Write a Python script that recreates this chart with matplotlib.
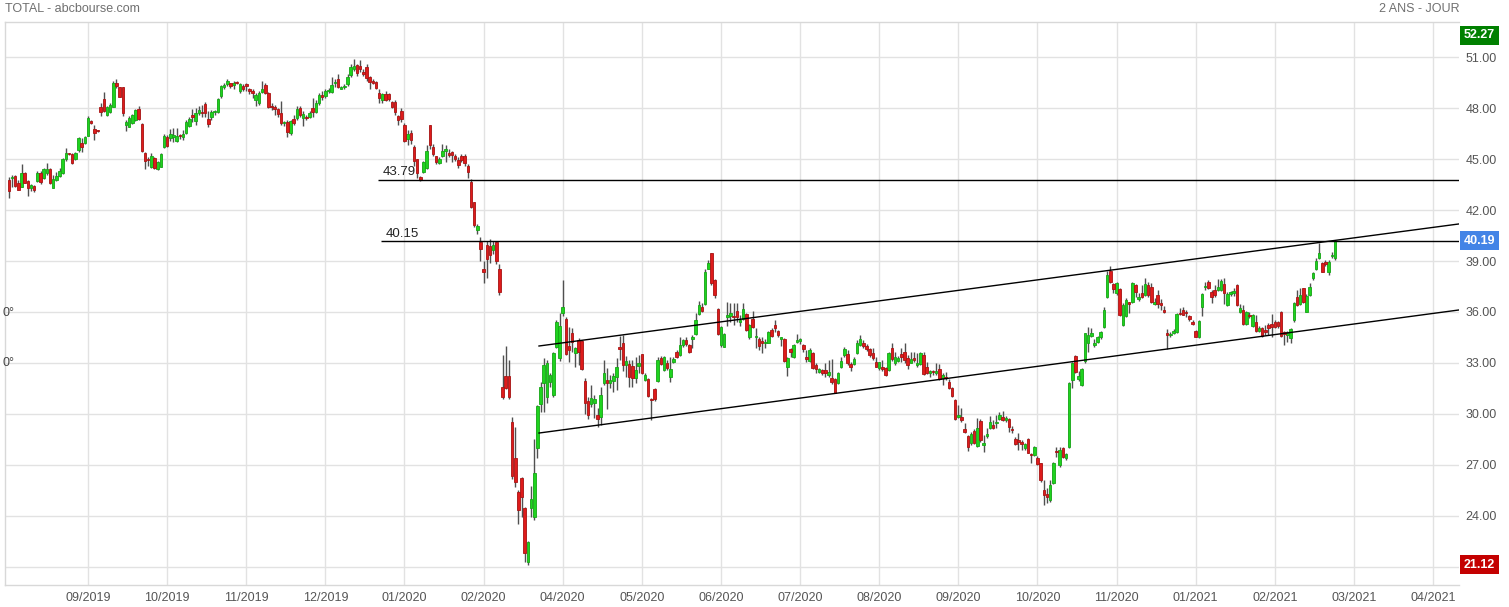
import numpy as np
import matplotlib
matplotlib.use('Agg')
import matplotlib.pyplot as plt

# cours journaliers TOTAL, un chandelier par séance
opens = [
    43.76, 43.90, 44.00, 43.60, 43.37, 44.20, 43.72, 43.27, 43.40, 43.72,
    44.19, 43.86, 44.15, 44.39, 43.31, 43.76, 44.00, 44.19, 44.98, 45.33,
    45.27, 45.00, 45.53, 45.92, 45.92, 46.37, 47.23, 46.74, 46.66, 48.04,
    48.51, 47.58, 47.74, 48.07, 49.45, 49.21, 49.21, 47.02, 46.90, 47.10,
    47.29, 47.92, 47.05, 45.37, 45.00, 44.51, 45.04, 44.41, 44.55, 45.68,
    46.31, 46.21, 46.30, 46.08, 46.35, 46.27, 46.55, 46.96, 47.59, 47.23,
    47.72, 47.76, 48.23, 47.33, 47.45, 47.74, 47.78, 48.72, 49.21, 49.39,
    49.45, 49.33, 49.53, 49.02, 49.29, 49.41, 49.10, 49.00, 48.47, 48.27,
    48.96, 49.35, 48.90, 48.12, 48.04, 47.92, 47.68, 47.10, 47.19, 46.51,
    47.35, 47.39, 47.98, 47.39, 47.49, 47.49, 47.98, 47.78, 48.31, 48.74,
    48.70, 49.00, 48.92, 49.47, 49.68, 49.12, 49.21, 49.39, 49.94, 50.27,
    50.53, 50.47, 50.10, 50.39, 49.84, 49.55, 49.55, 48.90, 48.47, 48.80,
    48.82, 48.37, 48.37, 47.55, 47.84, 47.00, 46.16, 46.55, 45.73, 44.98,
    43.94, 44.25, 44.49, 47.00, 45.68, 45.16, 44.75, 45.20, 45.50, 45.37,
    45.43, 45.20, 44.94, 45.20, 45.18, 44.60, 43.66, 42.45, 40.82, 40.14,
    38.53, 39.94, 39.88, 39.65, 40.10, 38.53, 31.57, 32.23, 32.23, 29.50,
    27.39, 25.43, 26.21, 24.45, 21.31, 24.45, 23.96, 27.98, 30.60, 31.80,
    31.02, 31.90, 31.10, 33.96, 33.27, 35.92, 35.57, 34.00, 34.78, 33.57,
    34.35, 34.31, 31.96, 30.78, 30.58, 30.62, 29.94, 29.80, 31.80, 32.00,
    31.84, 31.96, 32.19, 33.92, 34.16, 32.90, 32.93, 32.83, 32.10, 32.83,
    33.51, 32.00, 32.04, 30.85, 31.47, 31.97, 33.30, 32.59, 32.99, 32.16,
    33.08, 33.63, 33.48, 34.04, 34.36, 34.04, 34.44, 34.71, 35.89, 36.32,
    36.46, 38.55, 39.46, 37.89, 36.16, 34.06, 33.97, 35.69, 35.79, 35.75,
    36.06, 35.40, 35.57, 35.89, 34.51, 35.57, 34.50, 34.40, 34.30, 34.16,
    34.20, 34.95, 35.22, 34.89, 34.40, 34.41, 32.75, 33.80, 33.37, 34.24,
    34.31, 34.06, 33.33, 33.14, 33.57, 32.88, 32.49, 32.59, 32.59, 32.29,
    32.10, 32.04, 31.84, 32.78, 33.47, 33.53, 32.94, 32.94, 33.57, 34.06,
    34.20, 34.00, 33.80, 33.57, 33.04, 32.69, 32.78, 32.69, 32.59, 33.86,
    32.98, 33.14, 33.53, 33.67, 33.28, 33.02, 33.28, 32.88, 32.92, 33.47,
    32.75, 32.39, 32.49, 32.44, 32.63, 32.10, 32.20, 31.90, 31.51, 30.82,
    29.84, 29.84, 29.10, 28.70, 28.27, 29.02, 28.12, 29.60, 28.20, 28.70,
    29.16, 29.35, 29.45, 29.68, 29.84, 29.64, 29.70, 29.08, 28.53, 28.47,
    28.35, 27.98, 28.53, 27.60, 27.58, 27.43, 27.10, 25.53, 25.29, 24.94,
    25.92, 27.80, 27.00, 27.98, 27.39, 28.04, 32.00, 33.41, 32.04, 31.70,
    33.14, 34.20, 34.59, 34.08, 34.26, 34.51, 35.10, 36.87, 38.43, 37.65,
    37.10, 37.34, 35.24, 35.77, 36.53, 36.61, 37.59, 36.75, 37.14, 37.00,
    37.59, 37.45, 36.47, 37.00, 36.55, 36.12, 34.75, 34.65, 34.75, 34.85,
    35.96, 36.12, 35.93, 35.77, 35.36, 34.91, 34.55, 36.32, 37.45, 37.75,
    37.20, 37.30, 37.30, 37.30, 37.63, 36.41, 37.04, 37.10, 37.59, 36.02,
    36.12, 35.28, 35.80, 35.20, 35.39, 34.88, 35.08, 34.94, 35.24, 35.28,
    35.43, 35.39, 35.98, 34.81, 34.65, 34.49, 35.53, 36.90, 36.45, 37.39,
    36.02, 37.00, 37.98, 38.53, 39.16, 38.86, 38.96, 38.33, 39.27, 39.16,
]
highs = [
    43.92, 44.05, 44.05, 43.76, 44.70, 44.25, 43.76, 43.55, 43.50, 44.30,
    44.30, 44.50, 44.78, 44.45, 44.05, 44.25, 44.50, 45.04, 45.62, 45.37,
    45.33, 45.43, 46.27, 46.21, 46.35, 47.53, 47.29, 47.00, 46.70, 48.31,
    48.92, 48.11, 48.27, 49.60, 49.70, 49.25, 49.25, 47.29, 47.53, 47.64,
    47.92, 48.11, 47.13, 45.43, 45.10, 45.33, 45.10, 44.88, 45.33, 46.47,
    46.41, 46.74, 46.80, 46.80, 46.50, 46.70, 47.30, 47.45, 47.95, 48.00,
    48.10, 48.20, 48.35, 47.80, 47.90, 47.90, 48.60, 49.35, 49.50, 49.70,
    49.50, 49.60, 49.60, 49.45, 49.40, 49.50, 49.20, 49.10, 48.90, 49.00,
    49.60, 49.45, 48.95, 48.30, 48.20, 48.00, 48.40, 47.25, 47.30, 47.30,
    47.60, 48.10, 48.10, 47.80, 47.60, 47.80, 48.60, 48.50, 48.90, 49.00,
    49.10, 49.20, 49.80, 49.70, 50.00, 49.30, 49.40, 50.00, 50.60, 50.90,
    50.60, 50.82, 50.30, 50.60, 49.90, 49.70, 49.60, 49.10, 48.90, 49.00,
    48.90, 48.40, 48.50, 47.60, 48.00, 47.10, 46.70, 46.70, 45.80, 45.00,
    44.00, 44.90, 45.80, 47.00, 45.90, 45.20, 45.10, 45.90, 45.80, 45.60,
    45.50, 45.30, 45.10, 45.30, 45.30, 44.70, 43.80, 42.50, 41.20, 40.40,
    39.00, 40.20, 40.30, 40.20, 40.20, 38.80, 33.47, 34.00, 33.17, 29.80,
    29.21, 25.50, 26.31, 24.50, 22.50, 25.76, 28.50, 30.55, 31.90, 33.27,
    33.17, 32.39, 33.66, 35.50, 35.96, 37.88, 35.68, 35.13, 35.08, 33.96,
    34.45, 34.35, 32.09, 30.98, 31.70, 31.10, 30.33, 31.57, 33.17, 32.68,
    32.30, 32.39, 33.27, 34.60, 34.65, 33.42, 33.18, 33.18, 33.38, 33.47,
    33.55, 32.40, 32.10, 30.93, 31.51, 33.34, 33.42, 33.42, 33.18, 33.38,
    33.38, 33.77, 34.51, 34.40, 34.50, 34.12, 34.65, 35.93, 36.67, 36.51,
    38.51, 39.06, 39.49, 37.93, 36.22, 35.18, 34.75, 36.61, 36.55, 36.51,
    36.55, 35.83, 36.51, 35.97, 35.30, 36.08, 35.04, 34.55, 34.55, 34.40,
    34.91, 35.04, 35.53, 34.95, 34.55, 34.45, 33.37, 33.86, 34.12, 34.71,
    34.45, 34.12, 33.77, 33.86, 33.67, 32.98, 32.70, 32.65, 32.98, 33.18,
    33.22, 32.10, 32.49, 33.37, 33.92, 33.77, 33.08, 33.35, 34.35, 34.65,
    34.35, 34.10, 33.86, 33.86, 33.37, 33.08, 33.18, 32.75, 33.67, 34.20,
    33.67, 33.41, 33.86, 34.16, 33.47, 33.67, 33.67, 33.61, 33.67, 33.67,
    33.08, 32.60, 32.59, 32.98, 32.92, 32.39, 32.49, 32.04, 31.60, 30.86,
    30.53, 30.33, 29.45, 28.76, 28.96, 29.10, 29.74, 29.68, 28.76, 29.16,
    29.88, 29.65, 29.94, 30.14, 30.20, 29.90, 29.74, 29.29, 28.63, 28.86,
    28.47, 28.27, 28.57, 27.68, 28.12, 27.53, 27.13, 26.12, 25.63, 26.12,
    27.19, 28.04, 28.04, 28.04, 27.72, 31.90, 33.08, 33.47, 32.53, 32.68,
    34.79, 35.10, 35.04, 34.40, 34.60, 34.90, 36.27, 38.43, 38.71, 37.69,
    37.79, 37.40, 36.51, 36.81, 36.60, 37.79, 37.65, 37.10, 37.59, 37.98,
    37.79, 37.69, 36.80, 37.30, 36.75, 36.35, 34.98, 34.85, 34.98, 35.96,
    36.22, 36.28, 36.12, 35.83, 35.53, 34.95, 35.53, 37.10, 37.79, 37.88,
    37.30, 37.59, 37.94, 37.94, 37.98, 37.16, 37.24, 37.39, 37.63, 36.45,
    36.41, 36.06, 35.98, 35.86, 35.82, 35.20, 35.14, 35.24, 35.34, 35.86,
    35.53, 35.47, 36.06, 34.88, 34.88, 35.04, 36.61, 37.30, 37.39, 37.43,
    37.04, 37.69, 38.37, 39.16, 40.04, 38.92, 39.04, 39.06, 39.55, 40.24,
]
lows = [
    42.68, 43.37, 43.37, 43.17, 43.33, 43.57, 42.82, 43.10, 43.07, 43.66,
    43.52, 43.80, 44.05, 43.52, 43.27, 43.72, 43.96, 44.11, 44.90, 45.23,
    44.70, 44.94, 45.43, 45.43, 45.88, 46.33, 47.05, 46.11, 46.60, 47.53,
    47.78, 47.53, 47.68, 48.04, 49.20, 48.62, 47.53, 46.66, 46.86, 47.05,
    47.25, 47.29, 45.43, 44.39, 44.60, 44.45, 44.39, 44.35, 44.51, 45.62,
    45.72, 46.07, 46.00, 46.00, 46.20, 46.10, 46.50, 46.90, 47.20, 47.00,
    47.60, 47.50, 47.50, 46.90, 47.30, 47.60, 47.70, 48.60, 49.10, 49.30,
    49.20, 49.10, 49.40, 48.90, 49.00, 49.00, 48.80, 48.60, 48.10, 48.20,
    48.90, 48.80, 48.00, 47.90, 47.60, 47.50, 47.00, 46.95, 46.30, 46.40,
    47.00, 47.30, 47.50, 46.95, 47.30, 47.40, 47.50, 47.70, 48.20, 48.50,
    48.60, 48.90, 48.90, 49.25, 49.20, 49.10, 49.10, 49.30, 49.80, 50.20,
    49.90, 50.10, 49.90, 49.60, 49.10, 49.40, 49.10, 48.30, 48.30, 48.40,
    48.40, 48.00, 47.60, 47.00, 47.20, 46.00, 45.80, 45.90, 44.60, 43.90,
    43.70, 44.20, 44.40, 45.60, 45.20, 44.70, 44.70, 45.10, 44.80, 45.10,
    44.80, 44.90, 44.50, 44.80, 44.60, 43.90, 42.10, 41.00, 40.60, 39.00,
    37.70, 38.00, 38.90, 39.40, 38.80, 37.00, 30.90, 31.45, 30.90, 26.15,
    25.72, 23.53, 23.96, 21.31, 21.12, 23.92, 23.76, 27.39, 30.10, 30.13,
    30.63, 31.60, 31.00, 33.86, 33.13, 35.76, 33.47, 33.07, 33.66, 32.78,
    32.88, 32.58, 29.98, 29.68, 30.43, 29.74, 29.21, 29.35, 31.70, 30.31,
    31.50, 31.30, 31.40, 33.20, 32.50, 32.20, 31.60, 31.60, 31.80, 32.44,
    32.36, 31.95, 31.00, 29.65, 30.79, 31.91, 32.87, 32.55, 32.59, 31.91,
    33.02, 33.28, 33.42, 33.97, 34.00, 33.57, 33.87, 34.65, 35.83, 36.02,
    36.42, 38.51, 37.59, 36.81, 34.65, 33.97, 33.93, 35.18, 35.44, 35.24,
    35.44, 35.18, 35.53, 34.91, 34.44, 35.04, 33.87, 33.77, 33.57, 33.90,
    34.16, 34.55, 34.85, 34.55, 34.00, 33.08, 32.24, 33.37, 33.28, 34.20,
    34.10, 33.67, 33.08, 33.08, 32.63, 32.39, 32.43, 32.30, 32.20, 32.20,
    31.77, 31.22, 31.77, 32.69, 33.37, 32.88, 32.55, 32.88, 33.53, 34.00,
    33.90, 33.70, 33.37, 33.18, 32.75, 32.59, 32.55, 32.24, 32.55, 33.14,
    32.88, 33.08, 33.08, 32.98, 32.63, 32.98, 33.08, 32.78, 32.88, 32.29,
    32.35, 32.20, 32.29, 32.29, 32.00, 31.71, 31.98, 31.45, 30.98, 29.64,
    29.74, 29.55, 28.90, 27.84, 28.17, 28.23, 28.08, 28.37, 27.78, 28.57,
    29.10, 29.10, 29.16, 29.64, 29.60, 29.50, 28.96, 28.90, 28.17, 27.88,
    27.88, 27.88, 27.68, 27.13, 27.53, 26.98, 26.02, 24.64, 24.74, 24.84,
    25.88, 27.49, 26.86, 27.39, 27.29, 27.98, 31.51, 32.39, 31.96, 31.64,
    32.98, 33.67, 34.51, 33.96, 34.20, 34.40, 35.04, 36.81, 37.69, 37.10,
    37.00, 35.77, 35.18, 35.69, 35.92, 36.55, 36.90, 36.65, 36.81, 36.94,
    36.90, 36.55, 36.40, 36.22, 36.12, 35.93, 33.81, 34.50, 34.71, 34.79,
    35.83, 35.83, 35.73, 35.49, 35.24, 34.51, 34.45, 35.79, 37.30, 37.35,
    36.51, 36.90, 37.24, 37.24, 36.45, 36.37, 36.96, 36.96, 36.37, 35.92,
    35.24, 35.24, 35.67, 35.14, 34.81, 34.80, 34.55, 34.65, 34.65, 34.55,
    35.04, 35.04, 34.55, 34.06, 34.26, 34.16, 35.43, 36.37, 36.41, 36.51,
    35.98, 36.96, 37.88, 38.47, 39.12, 38.33, 38.73, 38.20, 39.16, 39.06,
]
closes = [
    43.13, 43.96, 43.40, 43.20, 44.20, 43.60, 43.27, 43.45, 43.20, 44.15,
    43.66, 44.39, 44.39, 43.57, 43.80, 43.99, 44.29, 44.98, 45.37, 45.30,
    44.74, 45.37, 46.21, 45.72, 46.31, 47.39, 47.13, 46.55, 46.62, 47.74,
    47.84, 48.04, 48.17, 49.45, 49.30, 48.66, 47.72, 47.17, 47.39, 47.58,
    47.88, 47.33, 45.49, 44.90, 44.94, 45.19, 44.45, 44.84, 45.27, 46.37,
    45.78, 46.47, 46.40, 46.35, 46.33, 46.47, 47.19, 47.33, 47.49, 47.69,
    47.88, 47.69, 47.69, 47.06, 47.74, 47.80, 48.51, 49.29, 49.35, 49.59,
    49.29, 49.45, 49.45, 49.39, 49.10, 49.29, 49.02, 48.86, 48.76, 48.90,
    49.12, 48.90, 48.08, 48.04, 47.92, 47.63, 47.10, 47.15, 46.60, 47.25,
    47.10, 47.92, 47.59, 47.64, 47.39, 47.68, 47.78, 48.31, 48.76, 48.62,
    49.00, 49.06, 49.35, 49.49, 49.25, 49.21, 49.30, 49.80, 50.39, 50.47,
    50.08, 50.27, 50.00, 49.74, 49.55, 49.50, 49.16, 48.57, 48.80, 48.47,
    48.51, 48.08, 47.78, 47.29, 47.35, 46.08, 46.47, 46.12, 44.90, 44.16,
    43.76, 44.80, 45.47, 45.82, 45.29, 44.84, 45.00, 45.47, 45.59, 45.22,
    45.24, 45.00, 44.65, 44.94, 44.74, 44.25, 42.20, 41.12, 41.06, 39.69,
    38.37, 39.10, 39.35, 39.94, 39.02, 37.20, 30.98, 31.50, 30.98, 26.35,
    26.02, 24.35, 25.13, 21.80, 22.45, 24.98, 26.51, 30.47, 31.60, 32.88,
    32.98, 32.29, 33.57, 35.43, 35.17, 36.27, 33.53, 33.76, 34.25, 33.86,
    33.66, 32.62, 30.66, 29.94, 30.92, 30.86, 29.68, 31.10, 32.39, 31.84,
    32.00, 32.23, 32.74, 33.80, 32.87, 33.14, 32.20, 32.10, 32.59, 32.99,
    32.40, 32.30, 31.06, 30.81, 30.87, 33.18, 32.95, 33.34, 32.73, 32.63,
    33.24, 33.38, 34.06, 34.36, 34.10, 33.63, 34.55, 35.53, 36.42, 36.08,
    38.38, 38.90, 37.69, 37.00, 34.69, 35.10, 34.71, 35.83, 35.93, 35.71,
    35.69, 35.50, 36.16, 34.95, 35.24, 35.10, 34.60, 34.00, 34.16, 34.25,
    34.85, 34.61, 35.04, 34.65, 34.50, 33.14, 33.28, 33.67, 34.06, 34.35,
    34.39, 33.80, 33.22, 33.77, 32.69, 32.63, 32.63, 32.39, 32.39, 32.49,
    31.90, 31.26, 32.39, 33.14, 33.80, 33.02, 32.75, 33.22, 34.16, 34.39,
    34.00, 33.85, 33.47, 33.28, 32.78, 33.04, 32.63, 32.29, 33.61, 33.22,
    33.33, 33.28, 33.33, 33.18, 32.88, 33.22, 33.18, 33.02, 33.57, 32.35,
    32.39, 32.50, 32.47, 32.55, 32.04, 32.29, 32.10, 31.51, 31.06, 29.68,
    29.94, 29.64, 28.96, 28.04, 28.82, 28.31, 29.16, 28.47, 28.27, 28.82,
    29.55, 29.16, 29.55, 29.94, 29.64, 29.75, 29.21, 29.04, 28.21, 28.37,
    28.23, 28.23, 27.72, 27.56, 28.04, 27.04, 26.12, 25.23, 25.10, 25.82,
    27.10, 27.76, 27.88, 27.49, 27.64, 31.84, 33.02, 32.49, 32.23, 32.62,
    34.75, 34.65, 34.75, 34.12, 34.51, 34.80, 36.12, 38.18, 37.79, 37.34,
    37.73, 35.83, 36.41, 36.71, 36.49, 37.69, 37.20, 36.90, 36.90, 37.65,
    37.00, 36.61, 36.61, 36.47, 36.41, 35.98, 34.65, 34.70, 34.91, 35.89,
    35.89, 35.85, 35.92, 35.57, 35.32, 34.55, 35.47, 37.04, 37.49, 37.43,
    36.90, 37.00, 37.49, 37.83, 37.10, 37.04, 37.16, 37.24, 36.41, 36.22,
    35.28, 35.98, 35.78, 35.82, 34.88, 35.08, 34.61, 34.85, 35.04, 35.14,
    35.14, 35.20, 34.61, 34.69, 34.75, 35.00, 36.51, 36.41, 37.00, 36.57,
    36.96, 37.49, 38.27, 39.00, 39.45, 38.37, 38.80, 38.96, 39.31, 40.19,
]
assert len(opens) == len(highs) == len(lows) == len(closes) == 420

# axe des temps : une ligne verticale toutes les 25 séances
grid_idx = list(range(25, 451, 25))
month_labels = ['09/2019', '10/2019', '11/2019', '12/2019', '01/2020', '02/2020',
                '04/2020', '05/2020', '06/2020', '07/2020', '08/2020', '09/2020',
                '10/2020', '11/2020', '01/2021', '02/2021', '03/2021', '04/2021']
price_ticks = list(range(21, 52, 3))

# étiquettes de l'axe droit
box_values = [52.27, 40.19, 21.12]
box_colors = ['#008000', '#4384e6', '#c40000']

# tracés : niveaux horizontaux et canal
levels = [43.79, 40.15]
level_start = [116.6, 117.6]
channel_x = [167.5, 458.2]
channel_top = [34.0, 41.18]
channel_bottom = [28.88, 36.12]

plt.rcParams['font.family'] = ['Liberation Sans', 'DejaVu Sans']

W, H = 1509, 607
fig = plt.figure(figsize=(W / 100, H / 100), dpi=100)
ax = fig.add_axes([5 / W, 1 - 585 / H, (1459 - 5) / W, (585 - 22) / H])

o = np.array(opens)
h = np.array(highs)
l = np.array(lows)
c = np.array(closes)
x = np.arange(len(c))
up = c >= o

ax.vlines(x, l, h, color='#505050', lw=1.0, zorder=2)
body = np.maximum(np.abs(c - o), 0.07)
bottom = np.minimum(o, c)
ax.bar(x[up], body[up], bottom=bottom[up], width=0.8, color='#1fd31f',
       edgecolor='#16a516', lw=0.6, zorder=3)
ax.bar(x[~up], body[~up], bottom=bottom[~up], width=0.8, color='#de1b1b',
       edgecolor='#a81313', lw=0.6, zorder=3)

# niveaux 43.79 / 40.15
for lev, xs in zip(levels, level_start):
    ax.hlines(lev, xs, channel_x[1], color='black', lw=1.0, zorder=4)
    ax.text(xs + 1.5, lev + 0.08, f'{lev:.2f}', fontsize=9.5, color='#222222',
            va='bottom', ha='left', zorder=4)

# canal haussier
ax.plot(channel_x, channel_top, color='black', lw=1.0, zorder=4)
ax.plot(channel_x, channel_bottom, color='black', lw=1.0, zorder=4)

ax.set_xlim(-1.23, 458.2)
ax.set_ylim(19.94, 53.06)
ax.set_xticks(grid_idx)
ax.set_xticklabels(month_labels)
ax.set_yticks(price_ticks)
# 21.00 est masqué par l'étiquette du plus bas
ax.set_yticklabels(['' if v == 21 else f'{v:.2f}' for v in price_ticks])
ax.yaxis.tick_right()
ax.tick_params(axis='both', length=0, colors='#555555', labelsize=9)
ax.tick_params(axis='x', pad=5)
ax.tick_params(axis='y', pad=4.5)
ax.grid(True, color='#e2e2e2', lw=1.0, zorder=0)
ax.set_axisbelow(True)
for side in ['left', 'top', 'bottom']:
    ax.spines[side].set_color('#d8d8d8')
    ax.spines[side].set_linewidth(1.0)
ax.spines['right'].set_visible(False)

ytrans = ax.get_yaxis_transform()
for val, col in zip(box_values, box_colors):
    ax.text(1.0034, val, f'{val:.2f}', transform=ytrans, color='white',
            fontsize=9, fontweight='bold', va='center', ha='left', clip_on=False,
            bbox=dict(boxstyle='square,pad=0.28', fc=col, ec='none'), zorder=6)

fig.text(5 / W, 1 - 9 / H, 'TOTAL - abcbourse.com', fontsize=9, color='#707070',
         ha='left', va='center')
fig.text(1460 / W, 1 - 9 / H, '2 ANS - JOUR', fontsize=9, color='#707070',
         ha='right', va='center')
fig.text(3 / W, 1 - 313 / H, '0°', fontsize=9, color='#444444', ha='left', va='center')
fig.text(3 / W, 1 - 363 / H, '0°', fontsize=9, color='#444444', ha='left', va='center')

fig.savefig('out.png', dpi=100)
